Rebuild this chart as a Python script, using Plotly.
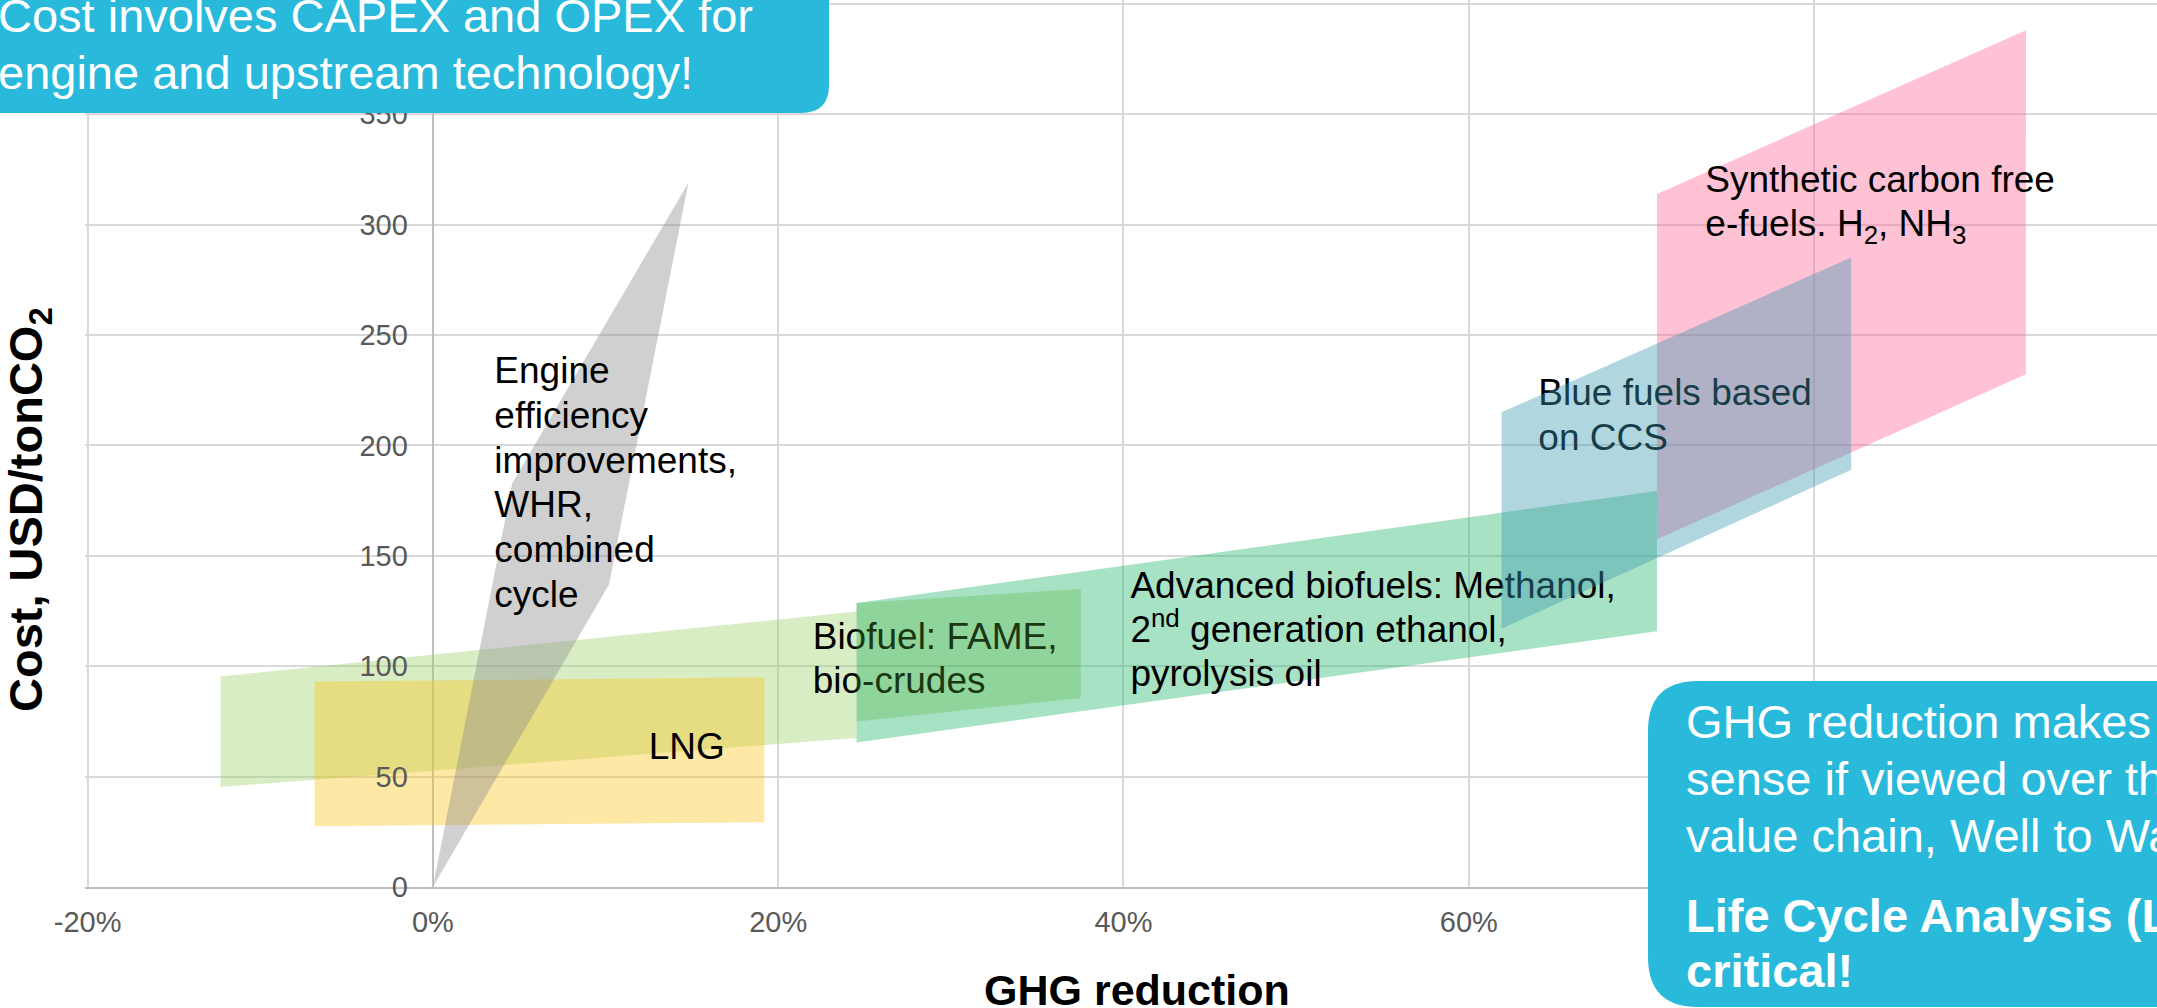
import plotly.graph_objects as go

FONT = "Arial, 'Liberation Sans', sans-serif"

#################### Data ####################
# outline of each technology band: GHG reduction (fraction) vs cost (USD/tonCO2)
engine_ghg = [0.0, 0.046, 0.148, 0.102]
engine_cost = [0, 183, 319, 137]

biofuel_ghg = [-0.123, -0.123, 0.2454, 0.2454]
biofuel_cost = [45.3, 95.4, 124.8, 67.5]

lng_ghg = [-0.0685, -0.0685, 0.192, 0.192]
lng_cost = [27.5, 93.1, 95.0, 29.3]

advanced_ghg = [0.2454, 0.2454, 0.709, 0.709]
advanced_cost = [65.5, 128.6, 179.4, 115.8]

fame_ghg = [0.2454, 0.2454, 0.3752, 0.3752]
fame_cost = [75.0, 128.6, 135.0, 85.6]

blue_ghg = [0.619, 0.619, 0.8215, 0.8215]
blue_cost = [117, 215, 285.2, 189]

efuel_ghg = [0.709, 0.709, 0.9227, 0.9227]
efuel_cost = [157.5, 313.9, 388.1, 232.3]

x_ticks = [-0.2, 0.0, 0.2, 0.4, 0.6, 0.8]
x_tick_labels = ["-20%", "0%", "20%", "40%", "60%", "80%"]
y_ticks = [0, 50, 100, 150, 200, 250, 300, 350, 400]

# label texts
engine_label = ["Engine", "efficiency", "improvements,", "WHR,", "combined", "cycle"]
lng_label = ["LNG"]
biofuel_label = ["Biofuel: FAME,", "bio-crudes"]
advanced_label = ["Advanced biofuels: Methanol,", "2<sup>nd</sup> generation ethanol,", "pyrolysis oil"]
blue_label = ["Blue fuels based", "on CCS"]
efuel_label = ["Synthetic carbon free", "e-fuels. H<sub>2</sub>, NH<sub>3</sub>"]

top_note = ["Cost involves CAPEX and OPEX for", "engine and upstream technology!"]
bottom_note = ["GHG reduction makes", "sense if viewed over the", "value chain, Well to Wake"]
bottom_note_bold = ["Life Cycle Analysis (LCA) is", "critical!"]


#################### Helpers ####################
W, H = 2157, 1008
ML, MB = 85, 121
PW, PH = W - ML, H - MB


def px_x(px):
    # pixel -> paper x
    return (px - ML) / PW


def px_y(py):
    # pixel -> paper y
    return (PH - py) / PH


def band(xs, ys, color):
    return go.Scatter(
        x=xs + [xs[0]], y=ys + [ys[0]],
        mode="lines", fill="toself", fillcolor=color,
        line=dict(width=0), hoverinfo="skip", showlegend=False,
    )


def label(lines, x, y_top, step=20.2):
    return go.Scatter(
        x=[x] * len(lines),
        y=[y_top - i * step for i in range(len(lines))],
        text=lines, mode="text", textposition="middle right",
        textfont=dict(family=FONT, size=37, color="black"),
        hoverinfo="skip", showlegend=False,
    )


def rounded_box(x0, y0, x1, y1, r, corners):
    # corners: which corners are rounded, in pixel space (tl, tr, br, bl)
    tl, tr, br, bl = [r if c else 0 for c in corners]
    pts = []
    pts.append(f"M {px_x(x0 + tl)},{px_y(y0)}")
    pts.append(f"L {px_x(x1 - tr)},{px_y(y0)}")
    if tr:
        pts.append(f"Q {px_x(x1)},{px_y(y0)} {px_x(x1)},{px_y(y0 + tr)}")
    pts.append(f"L {px_x(x1)},{px_y(y1 - br)}")
    if br:
        pts.append(f"Q {px_x(x1)},{px_y(y1)} {px_x(x1 - br)},{px_y(y1)}")
    pts.append(f"L {px_x(x0 + bl)},{px_y(y1)}")
    if bl:
        pts.append(f"Q {px_x(x0)},{px_y(y1)} {px_x(x0)},{px_y(y1 - bl)}")
    pts.append(f"L {px_x(x0)},{px_y(y0 + tl)}")
    if tl:
        pts.append(f"Q {px_x(x0)},{px_y(y0)} {px_x(x0 + tl)},{px_y(y0)}")
    pts.append("Z")
    return " ".join(pts)


#################### Figure ####################
fig = go.Figure()

# bands below the labels
fig.add_trace(band(biofuel_ghg, biofuel_cost, "rgba(160,210,110,0.4)"))
fig.add_trace(band(lng_ghg, lng_cost, "rgba(250,198,30,0.4)"))
fig.add_trace(band(advanced_ghg, advanced_cost, "rgba(38,183,108,0.4)"))
fig.add_trace(band(engine_ghg, engine_cost, "rgba(138,138,138,0.4)"))
fig.add_trace(band(efuel_ghg, efuel_cost, "rgba(255,103,148,0.4)"))

# labels
fig.add_trace(label(engine_label, 0.0356, 232.4, 20.25))
fig.add_trace(label(lng_label, 0.125, 62.0))
fig.add_trace(label(biofuel_label, 0.22, 111.9, 19.9))
fig.add_trace(label(advanced_label, 0.404, 135.0, 19.86))
fig.add_trace(label(blue_label, 0.6403, 222.5, 20.3))
fig.add_trace(label(efuel_label, 0.737, 319.1, 20.05))

# bands drawn over the labels
fig.add_trace(band(fame_ghg, fame_cost, "rgba(85,180,60,0.3)"))
fig.add_trace(band(blue_ghg, blue_cost, "rgba(58,152,178,0.4)"))

# ----------- callout boxes -----------
BOX = "#29B9DB"
fig.add_shape(type="path", xref="paper", yref="paper", layer="above",
              path=rounded_box(-40, -40, 829, 113, 28, (False, False, True, False)),
              fillcolor=BOX, line=dict(width=0))
fig.add_shape(type="path", xref="paper", yref="paper", layer="above",
              path=rounded_box(1648, 681, 2260, 1007, 50, (True, False, False, True)),
              fillcolor=BOX, line=dict(width=0))

annotations = []
NOTE = 47
for i, line in enumerate(top_note):
    base = 32 + i * 57
    annotations.append(dict(
        text=line, x=px_x(-4), y=px_y(base - 0.3465 * NOTE),
        xref="paper", yref="paper", xanchor="left", yanchor="middle",
        showarrow=False, font=dict(family=FONT, size=NOTE, color="white"),
    ))
for i, line in enumerate(bottom_note):
    base = 737.3 + i * 57.2
    annotations.append(dict(
        text=line, x=px_x(1683.6), y=px_y(base - 0.3465 * NOTE),
        xref="paper", yref="paper", xanchor="left", yanchor="middle",
        showarrow=False, font=dict(family=FONT, size=NOTE, color="white"),
    ))
for i, line in enumerate(bottom_note_bold):
    base = 931.7 + i * 55
    annotations.append(dict(
        text="<b>" + line + "</b>", x=px_x(1683.6), y=px_y(base - 0.3465 * NOTE),
        xref="paper", yref="paper", xanchor="left", yanchor="middle",
        showarrow=False, font=dict(family=FONT, size=NOTE, color="white"),
    ))

# ----------- axis titles -----------
annotations.append(dict(
    text="<b>GHG reduction</b>", x=px_x(1137), y=px_y(990),
    xref="paper", yref="paper", xanchor="center", yanchor="middle",
    showarrow=False, font=dict(family=FONT, size=43, color="black"),
))
annotations.append(dict(
    text="<b>Cost, USD/tonCO<sub>2</sub></b>", x=px_x(29), y=px_y(510),
    xref="paper", yref="paper", xanchor="center", yanchor="middle",
    textangle=-90, showarrow=False, font=dict(family=FONT, size=47, color="black"),
))

x_range = [-0.2015, -0.2015 + PW / 1726.5]
y_range = [0, PH / 2.2076]

fig.update_layout(
    width=W, height=H,
    autosize=False,
    margin=dict(l=ML, r=0, t=0, b=MB, pad=0),
    plot_bgcolor="white",
    paper_bgcolor="white",
    showlegend=False,
    hovermode=False,
    font=dict(family=FONT),
    annotations=annotations,
    xaxis=dict(
        range=x_range, tickvals=x_ticks, ticktext=x_tick_labels,
        showgrid=True, gridcolor="#D9D9D9", gridwidth=2,
        zeroline=True, zerolinecolor="#BFBFBF", zerolinewidth=2,
        showline=True, linecolor="#BFBFBF", linewidth=2,
        ticks="", ticklabelstandoff=8,
        tickfont=dict(family=FONT, size=29, color="#595959"),
    ),
    yaxis=dict(
        range=y_range, tickvals=y_ticks,
        anchor="free", position=(0 - x_range[0]) / (x_range[1] - x_range[0]),
        showgrid=True, gridcolor="#D9D9D9", gridwidth=2,
        zeroline=False, showline=False,
        ticks="", ticklabelstandoff=25,
        tickfont=dict(family=FONT, size=29, color="#595959"),
    ),
)

# page without the default body margin, so the figure fills the window
fig.write_html(
    "out.html",
    config={"displayModeBar": False},
    post_script="document.body.style.margin='0';",
)
